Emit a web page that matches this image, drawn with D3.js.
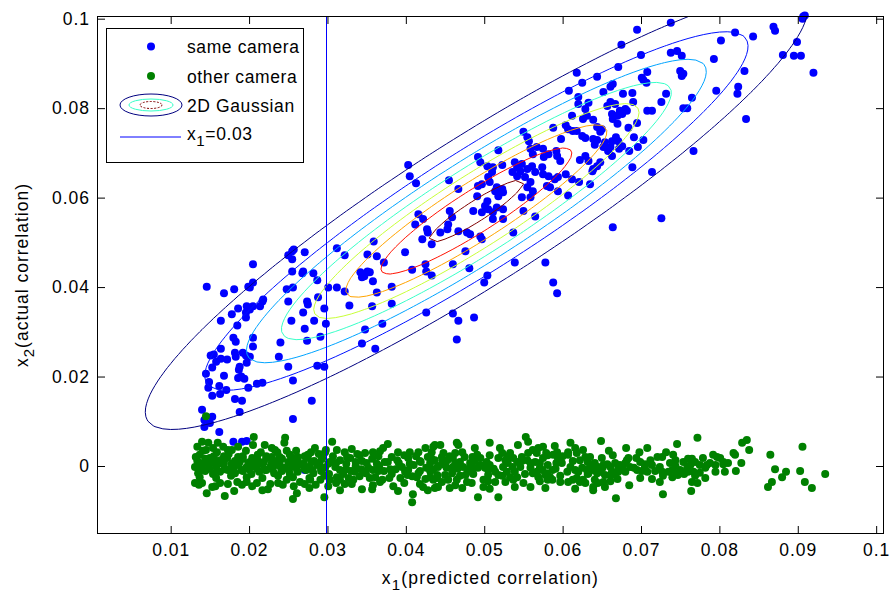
<!DOCTYPE html>
<html>
<head>
<meta charset="utf-8">
<script src="https://cdn.jsdelivr.net/npm/d3@7"></script>
<style>
  body { margin: 0; background: #fff; }
  svg text { font-family: "Liberation Sans", Arial, Helvetica, sans-serif; fill: #000; }
</style>
</head>
<body>
<svg id="chart" width="890" height="593"></svg>
<script>
// ---- axis limits and ticks ----
const xLimits = [0.0006, 0.101];
const yLimits = [-0.0152, 0.1006];
const xTicks = [0.01, 0.02, 0.03, 0.04, 0.05, 0.06, 0.07, 0.08, 0.09, 0.1];
const yTicks = [0, 0.02, 0.04, 0.06, 0.08, 0.1];

// ---- same camera: [x1 predicted, x2 actual] ----
const sameCamera = [
[.0255,.0480],[.0250,.0471],[.0257,.0484],[.0271,.0478],[.0205,.0451],[.0255,.0462],[.0255,.0435],[.0269,.0435],[.0268,.0431],[.0282,.0431],
[.0287,.0415],[.0312,.0487],[.0322,.0471],[.0359,.0502],[.0351,.0473],[.0363,.0469],[.0372,.0455],[.0342,.0433],[.0347,.0424],[.0351,.0435],
[.0344,.0422],[.0354,.0433],[.0358,.0413],[.0146,.0401],[.0168,.0386],[.0181,.0395],[.0199,.0401],[.0205,.0410],[.0201,.0399],[.0248,.0395],
[.0256,.0399],[.0301,.0399],[.0312,.0399],[.0322,.0390],[.0363,.0388],[.0382,.0401],[.0218,.0372],[.0217,.0368],[.0214,.0357],[.0197,.0357],
[.0201,.0350],[.0205,.0357],[.0186,.0352],[.0196,.0343],[.0196,.0332],[.0178,.0339],[.0164,.0325],[.0250,.0368],[.0274,.0368],[.0275,.0361],
[.0288,.0377],[.0296,.0352],[.0328,.0359],[.0357,.0357],[.0382,.0363],[.0269,.0343],[.0254,.0325],[.0283,.0325],[.0271,.0307],[.0298,.0318],
[.0185,.0314],[.0180,.0287],[.0183,.0278],[.0205,.0287],[.0205,.0267],[.0164,.0262],[.0151,.0247],[.0155,.0249],[.0158,.0233],[.0164,.0240],
[.0172,.0238],[.0182,.0253],[.0183,.0244],[.0192,.0253],[.0196,.0247],[.0201,.0244],[.0197,.0231],[.0240,.0276],[.0238,.0244],[.0274,.0280],
[.0291,.0289],[.0250,.0222],[.0287,.0224],[.0296,.0222],[.0256,.0191],[.0153,.0220],[.0145,.0206],[.0188,.0222],[.0187,.0215],[.0190,.0200],
[.0186,.0197],[.0194,.0195],[.0168,.0202],[.0149,.0188],[.0148,.0175],[.0153,.0157],[.0162,.0179],[.0171,.0170],[.0163,.0161],[.0199,.0175],
[.0210,.0184],[.0217,.0186],[.0182,.0150],[.0191,.0146],[.0188,.0121],[.0140,.0126],[.0143,.0103],[.0153,.0110],[.0150,.0096],[.0280,.0146],
[.0256,.0105],[.0162,.0076],[.0143,.0087],[.0180,.0054],[.0191,.0054],[.0197,.0056],[.0271,-.0009],
[.0403,.0673],[.0405,.0648],[.0413,.0632],[.0455,.0639],[.0467,.0619],[.0492,.0691],[.0495,.0679],[.0518,.0706],[.0550,.0747],[.0555,.0735],
[.0557,.0726],[.0504,.0670],[.0511,.0668],[.0523,.0673],[.0510,.0657],[.0505,.0646],[.0497,.0630],[.0492,.0626],[.0507,.0635],[.0516,.0623],
[.0514,.0614],[.0523,.0619],[.0518,.0603],[.0524,.0612],[.0504,.0592],[.0501,.0581],[.0505,.0574],[.0511,.0567],[.0516,.0578],[.0524,.0574],
[.0511,.0552],[.0524,.0552],[.0486,.0570],[.0497,.0567],[.0491,.0603],[.0539,.0679],[.0542,.0668],[.0548,.0675],[.0555,.0664],[.0546,.0659],
[.0536,.0657],[.0542,.0648],[.0552,.0646],[.0559,.0635],[.0555,.0623],[.0562,.0614],[.0548,.0601],[.0559,.0601],[.0561,.0670],[.0565,.0657],
[.0559,.0709],[.0562,.0697],[.0567,.0713],
[.0416,.0563],[.0422,.0552],[.0412,.0540],[.0427,.0529],[.0428,.0522],[.0433,.0496],[.0421,.0507],[.0444,.0522],[.0454,.0540],[.0456,.0570],
[.0459,.0556],[.0453,.0529],[.0467,.0525],[.0478,.0522],[.0482,.0518],[.0497,.0507],[.0495,.0513],[.0476,.0480],[.0537,.0522],[.0550,.0570],
[.0565,.0558],[.0399,.0478],[.0408,.0439],[.0425,.0451],[.0426,.0435],[.0433,.0426],[.0460,.0451],[.0481,.0442],[.0504,.0426],[.0500,.0410],
[.0539,.0455],[.0578,.0455],[.0588,.0410],[.0593,.0386],[.0426,.0343],[.0460,.0341],[.0467,.0325],[.0487,.0332],[.0465,.0283],[.0370,.0318],
[.0348,.0305],[.0344,.0274],[.0361,.0262],
[.0738,.0991],[.0695,.0975],[.0675,.0942],[.0700,.0919],[.0820,.0969],[.0802,.0951],[.0843,.0960],[.0869,.0982],[.0871,.0973],[.0907,.1005],
[.0906,.1000],[.0909,.1007],[.0899,.0948],[.0881,.0919],[.0895,.0917],[.0904,.0917],[.0920,.0879],[.0738,.0924],[.0746,.0928],[.0752,.0917],
[.0793,.0910],[.0671,.0892],[.0618,.0879],[.0644,.0870],[.0625,.0857],[.0750,.0883],[.0754,.0877],[.0752,.0872],[.0832,.0883],[.0608,.0839],
[.0701,.0868],[.0707,.0857],[.0703,.0863],[.0664,.0854],[.0661,.0848],[.0652,.0836],[.0708,.0881],[.0677,.0832],[.0689,.0834],[.0690,.0814],
[.0732,.0832],[.0796,.0839],[.0824,.0848],[.0823,.0832],[.0726,.0814],[.0765,.0823],[.0754,.0800],[.0759,.0800],[.0620,.0825],[.0620,.0809],
[.0633,.0812],[.0657,.0805],[.0661,.0814],[.0667,.0809],[.0673,.0794],[.0680,.0798],[.0682,.0794],[.0629,.0798],[.0631,.0783],[.0626,.0776],
[.0663,.0787],[.0670,.0783],[.0676,.0787],[.0664,.0776],[.0612,.0783],[.0639,.0774],[.0670,.0765],[.0695,.0767],[.0708,.0794],[.0714,.0794],
[.0588,.0756],[.0604,.0762],[.0607,.0753],[.0613,.0749],[.0618,.0749],[.0625,.0738],[.0629,.0733],[.0644,.0758],[.0648,.0747],[.0650,.0753],
[.0639,.0731],[.0644,.0729],[.0598,.0731],[.0668,.0735],[.0671,.0726],[.0663,.0726],[.0684,.0756],[.0691,.0735],[.0703,.0729],[.0696,.0713],
[.0685,.0704],[.0654,.0724],[.0652,.0713],[.0658,.0704],[.0663,.0693],[.0661,.0713],[.0676,.0715],[.0672,.0709],[.0641,.0718],[.0622,.0684],
[.0629,.0693],[.0633,.0682],[.0575,.0709],[.0582,.0697],[.0576,.0691],[.0592,.0704],[.0597,.0682],[.0593,.0693],[.0574,.0668],[.0582,.0648],
[.0575,.0652],[.0590,.0641],[.0594,.0646],[.0604,.0652],[.0612,.0641],[.0621,.0635],[.0635,.0630],[.0639,.0664],[.0644,.0670],[.0638,.0659],
[.0648,.0679],[.0689,.0668],[.0714,.0657],[.0580,.0626],[.0584,.0623],[.0594,.0614],[.0607,.0605],[.0767,.0704],[.0834,.0776],[.0726,.0554],
[.0664,.0534]
];

// ---- other camera: [x1 predicted, x2 actual] ----
const otherCamera = [
[.0206,.0065],[.0246,.0063],[.0245,.0052],[.0306,.0054],[.0284,.0040],[.0377,.0049],[.0371,.0040],[.0437,.0047],[.0425,.0040],[.0331,.0038],
[.0338,.0027],[.0358,.0031],[.0390,.0031],[.0405,.0031],[.0312,.0036],[.0297,.0031],[.0275,.0025],[.0262,.0020],[.0236,.0031],[.0248,.0034],
[.0229,.0040],[.0220,.0047],[.0160,.0052],[.0148,.0052],[.0140,.0054],[.0134,.0043],[.0145,.0036],[.0154,.0040],[.0167,.0043],[.0173,.0036],
[.0186,.0043],[.0205,.0047],
[.0131,-.0038],[.0146,-.0061],[.0169,-.0067],[.0181,-.0056],[.0217,-.0054],[.0224,-.0052],[.0256,-.0074],[.0261,-.0061],[.0277,-.0049],[.0296,-.0070],
[.0301,-.0045],[.0322,-.0040],[.0344,-.0052],[.0358,-.0043],[.0384,-.0045],[.0409,-.0063],[.0408,-.0081],[.0422,-.0047],[.0439,-.0047],[.0440,-.0027],
[.0425,-.0029],[.0414,-.0025],[.0402,-.0020],[.0393,-.0027],[.0370,-.0031],[.0354,-.0027],[.0333,-.0031],[.0316,-.0031],[.0303,-.0031],[.0291,-.0031],
[.0278,-.0031],[.0265,-.0036],[.0248,-.0031],[.0237,-.0038],[.0210,-.0038],[.0197,-.0036],[.0185,-.0036],[.0163,-.0038],[.0153,-.0047],[.0140,-.0038],
[.0137,.0025],[.0155,.0022],[.0174,.0027],[.0192,.0022],[.0211,.0025],[.0229,.0020],[.0252,.0025],[.0271,.0022],[.0289,.0027],
[.0134,.0011],[.0144,.0016],[.0153,.0009],[.0163,.0013],[.0172,.0018],[.0182,.0011],[.0192,.0016],[.0201,.0009],[.0211,.0013],[.0222,.0018],
[.0232,.0011],[.0242,.0016],[.0252,.0009],[.0262,.0013],[.0273,.0018],[.0283,.0011],[.0293,.0016],[.0303,.0009],
[.0131,-.0002],[.0140,.0002],[.0149,-.0004],[.0158,0],[.0167,.0004],[.0177,-.0002],[.0186,.0002],[.0196,-.0004],[.0206,0],[.0217,.0004],
[.0227,-.0002],[.0236,.0002],[.0246,-.0004],[.0256,0],[.0266,.0004],[.0277,-.0002],[.0287,.0002],[.0297,-.0004],
[.0135,-.0016],[.0144,-.0011],[.0154,-.0018],[.0163,-.0013],[.0173,-.0009],[.0182,-.0016],[.0192,-.0011],[.0203,-.0018],[.0213,-.0013],[.0222,-.0009],
[.0232,-.0016],[.0242,-.0011],[.0252,-.0018],[.0262,-.0013],[.0273,-.0009],[.0282,-.0016],[.0292,-.0011],[.0302,-.0018],
[.0137,-.0025],[.0158,-.0027],[.0177,-.0022],[.0197,-.0025],[.0217,-.0027],[.0237,-.0022],[.0256,-.0025],[.0277,-.0027],[.0296,-.0022],
[.0141,.0034],[.0159,.0031],[.0178,.0036],[.0196,.0034],[.0215,.0031],[.0233,.0036],[.0260,.0034],[.0279,.0031],[.0298,.0036],
[.0137,.0007],[.0148,.0005],[.0158,.0009],[.0168,.0007],[.0178,.0005],[.0188,.0009],[.0199,.0007],[.0209,.0005],[.0219,.0009],[.0229,.0007],
[.0239,.0005],[.0250,.0009],[.0260,.0007],[.0270,.0005],[.0280,.0009],[.0290,.0007],[.0301,.0005],
[.0139,-.0007],[.0149,-.0006],[.0159,-.0009],[.0169,-.0007],[.0180,-.0006],[.0190,-.0009],[.0200,-.0007],[.0210,-.0006],[.0220,-.0009],[.0230,-.0007],
[.0241,-.0006],[.0251,-.0009],[.0261,-.0007],[.0271,-.0006],[.0281,-.0009],[.0292,-.0007],
[.0136,-.0042],[.0157,-.0045],[.0173,-.0040],[.0191,-.0042],[.0204,-.0045],[.0227,-.0040],[.0243,-.0042],[.0257,-.0045],[.0271,-.0040],[.0285,-.0042],
[.0132,.0020],[.0150,.0018],[.0168,.0022],[.0186,.0020],[.0204,.0018],[.0222,.0022],[.0239,.0020],[.0257,.0018],[.0275,.0022],[.0293,.0020],
[.0316,.0013],[.0329,.0018],[.0344,.0011],[.0357,.0016],[.0373,.0009],[.0389,.0013],[.0403,.0018],[.0418,.0011],[.0433,.0016],
[.0310,-.0002],[.0324,-.0007],[.0336,0],[.0352,-.0004],[.0366,0],[.0380,-.0007],[.0395,-.0002],[.0410,.0002],[.0426,-.0004],[.0441,0],
[.0320,-.0018],[.0335,-.0013],[.0349,-.0016],[.0365,-.0011],[.0382,-.0018],[.0399,-.0013],[.0416,-.0016],[.0431,-.0011],
[.0322,.0031],[.0348,.0029],[.0367,.0033],[.0416,.0031],
[.0307,.0022],[.0325,.0020],[.0341,.0024],[.0365,.0022],[.0382,.0020],[.0398,.0024],[.0413,.0022],[.0428,.0020],
[.0311,.0007],[.0324,.0005],[.0336,.0009],[.0350,.0007],[.0363,.0005],[.0377,.0009],[.0391,.0007],[.0405,.0005],[.0419,.0009],[.0431,.0007],
[.0316,-.0009],[.0330,-.0011],[.0343,-.0007],[.0358,-.0009],[.0372,-.0011],[.0387,-.0007],[.0403,-.0009],[.0418,-.0011],[.0435,-.0007],
[.0312,-.0025],[.0327,-.0027],[.0341,-.0023],[.0361,-.0025],[.0379,-.0027],[.0408,-.0023],[.0431,-.0025],
[.0311,-.0038],[.0331,-.0040],[.0367,-.0036],[.0398,-.0038],[.0418,-.0040],
[.0316,-.0054],[.0357,-.0052],[.0390,-.0056],[.0428,-.0054],
[.0865,.0025],[.0906,.0043],[.0871,-.0007],[.0885,-.0013],[.0880,-.0025],[.0903,-.0011],[.0935,-.0018],[.0909,-.0036],[.0918,-.0049],[.0867,-.0036],
[.0862,-.0047],[.0838,.0036],[.0835,.0058],[.0829,.0052],[.0828,.0007],[.0821,-.0011],[.0807,-.0013],[.0818,.0029],[.0820,.0025],[.0811,.0007],
[.0805,.0009],[.0792,.0025],[.0797,.0020],[.0795,.0002],[.0788,.0007],[.0779,.0018],[.0782,-.0004],[.0784,.0002],[.0772,.0063],[.0769,.0009],
[.0765,.0016],[.0763,.0002],[.0767,-.0013],[.0769,-.0022],[.0765,-.0036],[.0772,-.0038],[.0764,-.0056],[.0746,.0049],[.0754,.0009],[.0759,-.0004],
[.0760,-.0013],[.0755,-.0018],[.0750,-.0009],[.0747,-.0020],[.0746,-.0016],[.0741,.0025],[.0744,.0013],[.0737,.0007],[.0740,-.0009],[.0735,-.0013],
[.0732,.0031],[.0728,-.0063],[.0724,-.0036],[.0721,.0020],[.0724,-.0002],[.0727,-.0013],[.0728,-.0022],[.0708,.0040],[.0698,.0031],[.0699,.0009],
[.0712,.0013],[.0714,.0002],[.0705,-.0002],[.0708,-.0013],[.0701,-.0011],[.0695,-.0009],[.0691,-.0004],[.0681,.0040],[.0684,.0018],[.0682,.0013],
[.0680,.0007],[.0686,-.0002],[.0676,-.0004],[.0671,-.0013],[.0685,-.0043],[.0670,-.0029],[.0667,-.0020],[.0663,-.0013],[.0661,-.0002],[.0657,.0004],
[.0668,-.0072],[.0659,.0034],[.0649,.0056],[.0650,.0018],[.0652,.0002],[.0645,-.0002],[.0641,.0007],[.0639,-.0009],[.0644,-.0016],[.0648,-.0013],
[.0654,-.0020],[.0652,-.0036],[.0645,-.0038],[.0639,-.0047],[.0639,-.0054],[.0641,-.0031],[.0629,.0020],[.0626,.0036],[.0622,.0013],[.0610,.0052],
[.0616,.0040],[.0618,.0029],[.0625,-.0004],[.0631,-.0009],[.0633,-.0016],[.0620,-.0013],[.0618,-.0027],[.0626,-.0031],[.0622,-.0036],[.0613,-.0031],
[.0607,-.0036],[.0606,-.0013],[.0610,-.0002],[.0616,-.0009],[.0607,.0025],[.0607,.0031],[.0590,.0045],[.0593,.0031],[.0588,.0025],[.0594,.0018],
[.0592,.0007],[.0581,.0002],[.0587,-.0009],[.0580,-.0016],[.0579,.0029],[.0575,.0018],[.0571,.0007],[.0574,-.0009],[.0567,-.0013],[.0569,-.0025],
[.0562,-.0016],[.0559,-.0004],[.0559,.0007],[.0555,.0013],[.0556,.0029],[.0562,.0036],[.0567,.0029],[.0569,.0040],[.0575,.0043],[.0553,.0065],
[.0556,.0054],[.0559,-.0047],[.0581,-.0031],[.0584,-.0025],[.0587,-.0031],[.0543,.0047],[.0542,.0009],[.0537,.0018],[.0533,.0029],[.0536,-.0002],
[.0539,-.0013],[.0542,-.0025],[.0537,-.0031],[.0533,-.0025],[.0529,-.0013],[.0524,-.0002],[.0527,.0013],[.0523,.0029],[.0520,.0040],[.0518,.0018],
[.0518,-.0020],[.0514,-.0013],[.0514,-.0036],[.0507,.0052],[.0507,.0002],[.0505,-.0009],[.0501,-.0004],[.0499,-.0031],[.0499,-.0047],[.0492,-.0070],
[.0495,.0018],[.0495,.0002],[.0491,.0025],[.0488,.0040],[.0485,.0020],[.0486,-.0004],[.0482,.0007],[.0479,-.0013],[.0476,-.0020],[.0478,-.0036],
[.0473,-.0002],[.0469,.0009],[.0472,.0031],[.0467,.0047],[.0465,.0052],[.0463,.0029],[.0460,.0018],[.0460,-.0002],[.0459,-.0016],[.0465,-.0031],
[.0463,-.0043],[.0456,-.0049],[.0454,-.0031],[.0450,.0002],[.0453,.0013],[.0448,.0029],[.0444,.0047],[.0446,.0020],[.0441,-.0002],[.0440,-.0020],
[.0441,-.0047],[.0437,-.0049],[.0435,-.0031],[.0433,-.0009],[.0437,.0013],[.0433,.0031],[.0435,.0043],[.0518,-.0070],[.0145,.0111],
[.0456,.0022],[.0475,.0020],[.0507,.0024],[.0530,.0022],[.0548,.0020],[.0581,.0024],[.0600,.0022],[.0635,.0020],[.0664,.0024],
[.0447,.0009],[.0463,.0007],[.0488,.0011],[.0503,.0009],[.0530,.0007],[.0548,.0011],[.0565,.0009],[.0599,.0007],[.0613,.0011],[.0632,.0009],[.0667,.0007],
[.0452,-.0004],[.0466,-.0006],[.0482,-.0002],[.0492,-.0004],[.0512,-.0006],[.0546,-.0002],[.0571,-.0004],[.0591,-.0006],[.0635,-.0002],[.0651,-.0004],[.0671,-.0006],
[.0450,-.0020],[.0469,-.0022],[.0486,-.0018],[.0505,-.0020],[.0523,-.0022],[.0552,-.0018],[.0578,-.0020],[.0597,-.0022],[.0632,-.0018],[.0661,-.0020],
[.0446,-.0036],[.0484,-.0038],[.0505,-.0034],[.0527,-.0036],[.0550,-.0038],[.0571,-.0034],[.0597,-.0036],[.0629,-.0038],[.0661,-.0034],
[.0472,-.0049],[.0507,-.0051],[.0539,-.0047],[.0578,-.0049],[.0616,-.0051],[.0654,-.0047],
[.0694,.0018],[.0727,.0020],[.0760,.0016],[.0801,.0018],
[.0673,.0002],[.0705,.0004],[.0744,.0000],[.0775,.0002],[.0805,.0004],
[.0680,-.0013],[.0718,-.0011],[.0775,-.0015],[.0795,-.0013],
[.0699,-.0027],[.0714,-.0029],[.0740,-.0025],[.0782,-.0027]
];

// ---- fitted 2D Gaussian of the same-camera pairs ----
const gaussMean = [0.049, 0.057];
const gaussSigma = [0.0205, 0.0237];
const gaussRho = 0.92;
const gaussLevels = [100, 200, 300, 400, 500, 600, 700, 800];

const thresholdX = 0.03;
const legendLabels = ["same camera", "other camera", "2D Gaussian", "x", "1", "=0.03"];
const axisLabels = { x: ["x", "1", "(predicted correlation)"], y: ["x", "2", "(actual correlation)"] };

// ---- layout ----
const plot = { left: 97, right: 884, top: 16, bottom: 534 };
const svg = d3.select("#chart");
const x = d3.scaleLinear().domain(xLimits).range([plot.left, plot.right]);
const y = d3.scaleLinear().domain(yLimits).range([plot.bottom, plot.top]);

// MATLAB-style jet colormap
function jet(t) {
  const c = v => Math.max(0, Math.min(1, v));
  const r = c(1.5 - Math.abs(4 * t - 3)), g = c(1.5 - Math.abs(4 * t - 2)), b = c(1.5 - Math.abs(4 * t - 1));
  return d3.rgb(r * 255, g * 255, b * 255).formatHex();
}
const levelColor = d3.scaleLinear().domain(d3.extent(gaussLevels)).range([0, 1]);

svg.append("defs").append("clipPath").attr("id", "plotClip")
  .append("rect").attr("x", plot.left).attr("y", plot.top)
  .attr("width", plot.right - plot.left).attr("height", plot.bottom - plot.top);

// ---- scatter ----
svg.append("g").selectAll("circle").data(sameCamera).join("circle")
  .attr("cx", d => x(d[0])).attr("cy", d => y(d[1])).attr("r", 4).attr("fill", "#0000ff");
svg.append("g").selectAll("circle").data(otherCamera).join("circle")
  .attr("cx", d => x(d[0])).attr("cy", d => y(d[1])).attr("r", 4).attr("fill", "#008000");

// ---- Gaussian density contours on a sampling grid ----
const step = 0.001, gx0 = -0.005, gy0 = -0.015;
const nx = 121, ny = 146;
const [mx, my] = gaussMean, [sx, sy] = gaussSigma, rho = gaussRho;
const norm = 1 / (2 * Math.PI * sx * sy * Math.sqrt(1 - rho * rho));
const grid = new Float64Array(nx * ny);
for (let j = 0; j < ny; j++) {
  for (let i = 0; i < nx; i++) {
    const u = (gx0 + i * step - mx) / sx, v = (gy0 + j * step - my) / sy;
    const q = (u * u - 2 * rho * u * v + v * v) / (1 - rho * rho);
    grid[j * nx + i] = norm * Math.exp(-q / 2);
  }
}
const contourSets = d3.contours().size([nx, ny]).thresholds(gaussLevels)(grid);
const toScreen = d3.geoTransform({
  point(px, py) { this.stream.point(x(gx0 + (px - 0.5) * step), y(gy0 + (py - 0.5) * step)); }
});
const contourPath = d3.geoPath(toScreen);
svg.append("g").attr("clip-path", "url(#plotClip)")
  .selectAll("path").data(contourSets).join("path")
  .attr("d", contourPath).attr("fill", "none")
  .attr("stroke", d => jet(levelColor(d.value))).attr("stroke-width", 1);

// ---- x1 = 0.03 line, snapped to a pixel column ----
const lineX = Math.round(x(thresholdX)) - 0.5;
svg.append("line")
  .attr("x1", lineX).attr("x2", lineX)
  .attr("y1", plot.top).attr("y2", plot.bottom)
  .attr("stroke", "#0000ff").attr("stroke-width", 1);

// ---- axes (box with inward ticks on all sides) ----
const fmt = d => d === 0 ? "0" : d3.format("~g")(d);
const tickFont = g => g.selectAll("text").attr("font-size", 17.5).attr("letter-spacing", 1).attr("fill", "#000");
const cleanAxis = g => { g.select(".domain").remove(); g.selectAll("line").attr("stroke", "#000"); };

svg.append("g").attr("transform", `translate(0,${plot.bottom})`)
  .call(d3.axisBottom(x).tickValues(xTicks).tickFormat(fmt).tickSizeInner(-8).tickSizeOuter(0).tickPadding(10))
  .call(cleanAxis).call(tickFont).attr("font-family", null);
svg.append("g").attr("transform", `translate(0,${plot.top})`)
  .call(d3.axisTop(x).tickValues(xTicks).tickFormat("").tickSizeInner(-8).tickSizeOuter(0))
  .call(cleanAxis);
svg.append("g").attr("transform", `translate(${plot.left},0)`)
  .call(d3.axisLeft(y).tickValues(yTicks).tickFormat(fmt).tickSizeInner(-8).tickSizeOuter(0).tickPadding(7))
  .call(cleanAxis).call(tickFont).attr("font-family", null);
svg.append("g").attr("transform", `translate(${plot.right},0)`)
  .call(d3.axisRight(y).tickValues(yTicks).tickFormat("").tickSizeInner(-8).tickSizeOuter(0))
  .call(cleanAxis);
svg.append("rect")
  .attr("x", plot.left + 0.5).attr("y", plot.top + 0.5)
  .attr("width", plot.right - plot.left - 1).attr("height", plot.bottom - plot.top - 1)
  .attr("fill", "none").attr("stroke", "#000").attr("stroke-width", 1);

// ---- axis labels ----
function subLabel(sel, parts) {
  sel.append("tspan").text(parts[0]);
  sel.append("tspan").attr("font-size", 15).attr("dy", 6).text(parts[1]);
  sel.append("tspan").attr("dy", -6).text(parts[2]);
}
svg.append("text").attr("x", (plot.left + plot.right) / 2).attr("y", 584)
  .attr("text-anchor", "middle").attr("font-size", 17.5).attr("letter-spacing", 1.2)
  .call(subLabel, axisLabels.x);
svg.append("text").attr("transform", `translate(28,${(plot.top + plot.bottom) / 2}) rotate(-90)`)
  .attr("text-anchor", "middle").attr("font-size", 17.5).attr("letter-spacing", 1.0)
  .call(subLabel, axisLabels.y);

// ---- legend ----
const lg = svg.append("g");
lg.append("rect").attr("x", 106.5).attr("y", 28.5).attr("width", 197).attr("height", 134)
  .attr("fill", "#fff").attr("stroke", "#000").attr("stroke-width", 1);
const textX = 187;
const rowY = [46.5, 76, 105, 137];
lg.append("circle").attr("cx", 151).attr("cy", rowY[0]).attr("r", 4).attr("fill", "#0000ff");
lg.append("circle").attr("cx", 151).attr("cy", rowY[1]).attr("r", 4).attr("fill", "#008000");
// small nested-contour glyph
const glyph = [
  { rx: 31, ry: 11, t: 0, dash: null },
  { rx: 22, ry: 6, t: 3 / 7, dash: null },
  { rx: 11, ry: 3.5, t: 1, dash: "2,1.5" }
];
lg.selectAll("ellipse").data(glyph).join("ellipse")
  .attr("cx", 151).attr("cy", rowY[2]).attr("rx", d => d.rx).attr("ry", d => d.ry)
  .attr("fill", "none").attr("stroke", d => jet(d.t)).attr("stroke-width", 1)
  .attr("stroke-dasharray", d => d.dash);
lg.append("line").attr("x1", 120).attr("x2", 181).attr("y1", rowY[3]).attr("y2", rowY[3])
  .attr("stroke", "#0000ff").attr("stroke-width", 1);
const lt = (i, yy) => lg.append("text").attr("x", textX).attr("y", yy)
  .attr("font-size", 17.5).attr("letter-spacing", 0.6);
lt(0, 53).text(legendLabels[0]);
lt(1, 82.5).text(legendLabels[1]);
lt(2, 111.5).text(legendLabels[2]);
const l4 = lt(3, 140);
l4.append("tspan").text(legendLabels[3]);
l4.append("tspan").attr("font-size", 15).attr("dy", 6).text(legendLabels[4]);
l4.append("tspan").attr("dy", -6).text(legendLabels[5]);
</script>
</body>
</html>
